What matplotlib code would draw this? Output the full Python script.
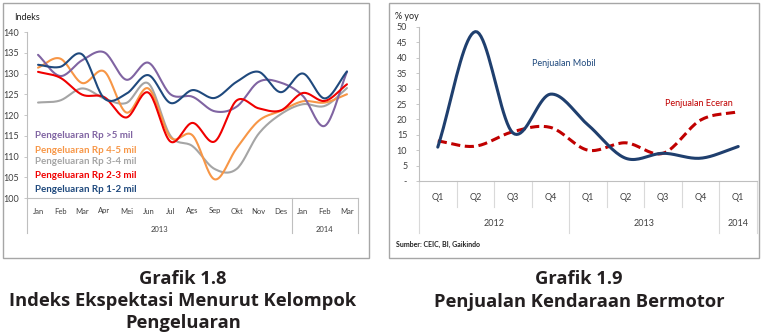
import matplotlib
matplotlib.use("Agg")
import matplotlib.pyplot as plt
import numpy as np
from matplotlib.patches import Rectangle
from matplotlib.transforms import blended_transform_factory

plt.rcParams["font.family"] = ["Lato", "DejaVu Sans"]

# --- Grafik 1.8 data ---
months = ["Jan", "Feb", "Mar", "Apr", "Mei", "Jun", "Jul", "Ags", "Sep", "Okt",
          "Nov", "Des", "Jan", "Feb", "Mar"]
month_years = ["2013", "2014"]
exp_gt5 = [134.5, 129.4, 133.2, 135.1, 128.5, 132.6, 125.0, 124.4, 120.9, 122.0,
           128.0, 127.8, 124.6, 117.4, 130.4]
exp_4_5 = [131.4, 133.6, 127.7, 130.5, 120.6, 126.4, 114.6, 115.1, 104.5, 112.0,
           118.6, 121.0, 123.3, 123.0, 125.0]
exp_3_4 = [123.0, 123.5, 126.4, 124.0, 122.9, 127.6, 115.0, 112.5, 107.0, 107.0,
           115.5, 120.2, 122.6, 122.2, 126.5]
exp_2_3 = [130.4, 129.0, 124.9, 124.3, 119.4, 125.4, 113.6, 118.1, 113.6, 123.5,
           121.6, 121.1, 125.3, 123.4, 127.4]
exp_1_2 = [132.1, 131.6, 134.6, 124.0, 125.1, 129.6, 122.9, 126.0, 124.1, 128.0,
           130.4, 125.5, 130.0, 124.0, 130.5]

# --- Grafik 1.9 data ---
quarters = ["Q1", "Q2", "Q3", "Q4", "Q1", "Q2", "Q3", "Q4", "Q1"]
quarter_years = ["2012", "2013", "2014"]
mobil = [11.0, 48.5, 15.6, 28.2, 18.2, 7.4, 9.0, 7.4, 11.2]
eceran = [13.0, 11.3, 16.0, 17.4, 10.0, 12.4, 9.0, 19.8, 22.5]

W, H = 763, 334


def smooth(y, n=20):
    # Catmull-Rom curve through the points, looks like Excel's smoothed line
    y = np.asarray(y, float)
    p = np.concatenate([[2 * y[0] - y[1]], y, [2 * y[-1] - y[-2]]])
    xs, ys = [], []
    for i in range(len(y) - 1):
        t = np.linspace(0, 1, n, endpoint=False)
        p0, p1, p2, p3 = p[i], p[i + 1], p[i + 2], p[i + 3]
        yy = 0.5 * ((2 * p1) + (-p0 + p2) * t + (2 * p0 - 5 * p1 + 4 * p2 - p3) * t ** 2
                    + (-p0 + 3 * p1 - 3 * p2 + p3) * t ** 3)
        xs.append(i + t)
        ys.append(yy)
    xs.append([len(y) - 1])
    ys.append([y[-1]])
    return np.concatenate(xs), np.concatenate(ys)


def px_axes(fig, x0, y0, x1, y1):
    return fig.add_axes([x0 / W, 1 - y1 / H, (x1 - x0) / W, (y1 - y0) / H])


def ypx(y_pixel, top, bottom):
    # pixel row -> axes fraction
    return (bottom - y_pixel) / (bottom - top)


fig = plt.figure(figsize=(W / 100, H / 100), dpi=100)
fig.patch.set_facecolor("white")

# panel borders
for x0, x1 in [(3, 369), (389, 759)]:
    fig.patches.append(Rectangle((x0 / W, 1 - 258 / H), (x1 - x0) / W, 255 / H,
                                 transform=fig.transFigure, fill=False,
                                 edgecolor="#A6A6A6", linewidth=1.0))

axis_col = "#BFBFBF"
txt_col = "#404040"

# ---------------- left chart ----------------
lt, lb = 32, 198
ax = px_axes(fig, 27, lt, 358, lb)
series = [
    (exp_gt5, "#8064A2", "Pengeluaran Rp >5 mil"),
    (exp_4_5, "#F79646", "Pengeluaran Rp 4-5 mil"),
    (exp_3_4, "#A5A5A5", "Pengeluaran Rp 3-4 mil"),
    (exp_2_3, "#F00000", "Pengeluaran Rp 2-3 mil"),
    (exp_1_2, "#1F497D", "Pengeluaran Rp 1-2 mil"),
]
for vals, col, _ in [series[2], series[1], series[0], series[3], series[4]]:
    xs, ys = smooth(vals)
    ax.plot(xs, ys, color=col, linewidth=1.5, solid_capstyle="round")
ax.set_xlim(-0.5, len(months) - 0.5)
ax.set_ylim(100, 140)
ax.set_yticks(np.arange(100, 141, 5))
ax.set_xticks([])
for s in ["top", "right"]:
    ax.spines[s].set_visible(False)
for s in ["left", "bottom"]:
    ax.spines[s].set_color(axis_col)
    ax.spines[s].set_linewidth(0.8)
ax.tick_params(axis="y", labelsize=6.5, colors=txt_col, length=2.5, width=0.6,
               color=axis_col, pad=3)
ax.set_facecolor("none")

legend_y = [135, 150, 162, 175, 189]
for (vals, col, lab), yy in zip(series, legend_y):
    ax.text((35 - 27) / 331, ypx(yy, lt, lb), lab, color=col,
            fontsize=7, fontweight="bold", transform=ax.transAxes, va="center")
ax.text(-0.04, 1.09, "Indeks", transform=ax.transAxes, fontsize=6.5, color="#202020",
        va="center")

tr = blended_transform_factory(ax.transData, ax.transAxes)
for i, m in enumerate(months):
    ax.text(i, ypx(211, lt, lb), m, transform=tr, ha="center", va="center",
            fontsize=5.5, color=txt_col)
ax.text(5.5, ypx(229, lt, lb), month_years[0], transform=tr, ha="center",
        va="center", fontsize=5.5, color=txt_col)
ax.text(13, ypx(229, lt, lb), month_years[1], transform=tr, ha="center",
        va="center", fontsize=5.5, color=txt_col)
for xb in [-0.5, 11.5, 14.5]:
    ax.plot([xb, xb], [0, ypx(233, lt, lb)], transform=tr, color=axis_col,
            linewidth=0.8, clip_on=False)

# ---------------- right chart ----------------
rt, rb = 27, 181
ax2 = px_axes(fig, 419, rt, 757, rb)
xs, ys = smooth(eceran)
ax2.plot(xs, ys, color="#C00000", linewidth=2.2, dashes=(3, 1.5))
xs, ys = smooth(mobil)
ax2.plot(xs, ys, color="#1F3F6E", linewidth=2.2, solid_capstyle="round")
ax2.set_xlim(-0.5, len(quarters) - 0.5)
ax2.set_ylim(0, 50)
ax2.set_yticks(np.arange(0, 51, 5))
ax2.set_yticklabels(["-"] + [str(v) for v in range(5, 51, 5)])
ax2.set_xticks([])
for s in ["top", "right"]:
    ax2.spines[s].set_visible(False)
for s in ["left", "bottom"]:
    ax2.spines[s].set_color(axis_col)
    ax2.spines[s].set_linewidth(0.8)
ax2.tick_params(axis="y", labelsize=6.5, colors=txt_col, length=2.5, width=0.6,
                color=axis_col, pad=6)
ax2.set_facecolor("none")
ax2.text(-0.07, 1.07, "% yoy", transform=ax2.transAxes, fontsize=6.5,
         color="#202020", va="center")
tr2 = blended_transform_factory(ax2.transData, ax2.transAxes)
ax2.text(2.5, 0.76, "Penjualan Mobil", transform=tr2, fontsize=6.5,
         color="#1F497D", va="center")
ax2.text(6.05, 0.5, "Penjualan Eceran", transform=tr2, fontsize=6.5,
         color="#C00000", va="center")

for i, q in enumerate(quarters):
    ax2.text(i, ypx(198, rt, rb), q, transform=tr2, ha="center", va="center",
             fontsize=6.5, color=txt_col)
for xc, yr in zip([1.5, 5.5, 8], quarter_years):
    ax2.text(xc, ypx(223, rt, rb), yr, transform=tr2, ha="center",
             va="center", fontsize=6.5, color=txt_col)
for xb in np.arange(-0.5, len(quarters), 1.0):
    bottom = 233 if xb in (-0.5, 3.5, 7.5, 8.5) else 207
    ax2.plot([xb, xb], [0, ypx(bottom, rt, rb)], transform=tr2,
             color="#D9D9D9", linewidth=0.8, clip_on=False)
fig.text(396 / W, 1 - 244 / H, "Sumber: CEIC, BI, Gaikindo", fontsize=5,
         fontweight="bold", color="#202020", va="center")

# ---------------- captions ----------------
cap = dict(ha="center", va="center", fontsize=13.2, fontweight="bold",
           color="#231F20", family=["Open Sans", "DejaVu Sans"])
fig.text(183 / W, 1 - 279 / H, "Grafik 1.8", **cap)
fig.text(183 / W, 1 - 301 / H, "Indeks Ekspektasi Menurut Kelompok", **cap)
fig.text(183 / W, 1 - 323 / H, "Pengeluaran", **cap)
fig.text(579 / W, 1 - 279 / H, "Grafik 1.9", **cap)
fig.text(579 / W, 1 - 302 / H, "Penjualan Kendaraan Bermotor", **cap)

fig.savefig("out.png", dpi=100, facecolor="white")
